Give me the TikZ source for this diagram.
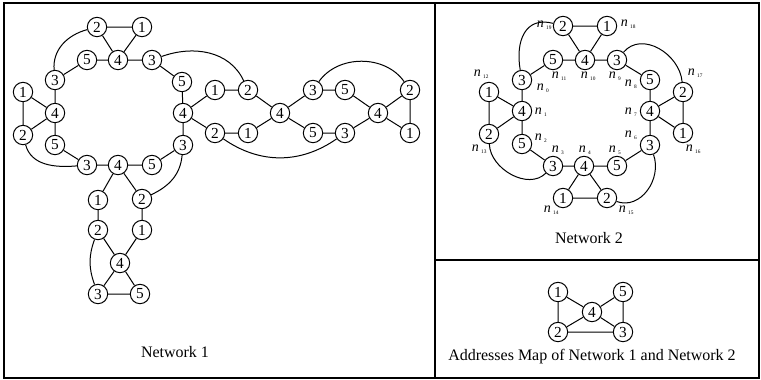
\documentclass[tikz,border=0pt]{standalone}
\usepackage{fontspec}
\setmainfont{Liberation Serif}
\newcommand{\nsub}[1]{\textit{n}\,\raisebox{-0.25ex}{\fontsize{4}{4}\selectfont #1}}
\begin{document}
\begin{tikzpicture}[x=0.75pt,y=-0.75pt,
 nd/.style={circle,draw,line width=0.75pt,minimum size=14.5pt,inner sep=0pt,font=\fontsize{11.5}{12}\selectfont},
 ed/.style={line width=0.75pt},
 lab/.style={font=\fontsize{12}{14}\selectfont},
 nl/.style={anchor=west,inner sep=0pt,font=\fontsize{10.5}{12}\selectfont},
 frame/.style={line width=1pt}]
\useasboundingbox (0,0) rectangle (761,379);
\draw[frame] (4,3) rectangle (759,378);
\draw[frame] (435,3) -- (435,378);
\draw[frame] (435,260) -- (759,260);

% ---------------- Network 1 ----------------
\node[nd] (a2t) at (97,27) {2};
\node[nd] (a1t) at (142,27) {1};
\node[nd] (a5t) at (87,60) {5};
\node[nd] (a4t) at (118,60) {4};
\node[nd] (a3t) at (152,60) {3};
\node[nd] (a3l) at (55,80) {3};
\node[nd] (a5r) at (182,82) {5};
\node[nd] (a1fl) at (23,92) {1};
\node[nd] (a4l) at (55,113) {4};
\node[nd] (a4r) at (183,113) {4};
\node[nd] (a2fl) at (23,135) {2};
\node[nd] (a5l) at (55,145) {5};
\node[nd] (a3r) at (183,145) {3};
\node[nd] (a3b) at (87,165) {3};
\node[nd] (a4b) at (118,165) {4};
\node[nd] (a5b) at (152,165) {5};
\node[nd] (b1) at (98,200) {1};
\node[nd] (b2) at (142,199) {2};
\node[nd] (b2l) at (98,230) {2};
\node[nd] (b1r) at (142,230) {1};
\node[nd] (b4) at (120,263) {4};
\node[nd] (b3) at (98,294) {3};
\node[nd] (b5) at (140,294) {5};
\node[nd] (c1) at (215,90) {1};
\node[nd] (c2) at (248,90) {2};
\node[nd] (c2b) at (215,133) {2};
\node[nd] (c1b) at (248,133) {1};
\node[nd] (c4) at (280,113) {4};
\node[nd] (c3) at (313,90) {3};
\node[nd] (c5) at (345,90) {5};
\node[nd] (c5b) at (313,133) {5};
\node[nd] (c3b) at (345,133) {3};
\node[nd] (c4r) at (378,113) {4};
\node[nd] (c2r) at (410,90) {2};
\node[nd] (c1r) at (410,133) {1};

\draw[ed] (a2t) -- (a1t) (a2t) -- (a4t) (a1t) -- (a4t) (a5t) -- (a4t) -- (a3t)
 (a3l) -- (a5t) (a3l) -- (a4l) (a1fl) -- (a4l) (a2fl) -- (a4l) (a1fl) -- (a2fl)
 (a4l) -- (a5l) (a5l) -- (a3b) (a3b) -- (a4b) -- (a5b) (a5b) -- (a3r)
 (a3t) -- (a5r) (a5r) -- (a4r) -- (a3r) (a4r) -- (c1) (a4r) -- (c2b)
 (a4b) -- (b1) (a4b) -- (b2) (b1) -- (b2l) (b2) -- (b1r) (b2l) -- (b4) (b1r) -- (b4)
 (b4) -- (b3) (b4) -- (b5) (b3) -- (b5)
 (c1) -- (c2) (c2) -- (c4) (c2b) -- (c1b) (c1b) -- (c4) (c4) -- (c3) (c4) -- (c5b)
 (c3) -- (c5) (c5b) -- (c3b) (c5) -- (c4r) (c3b) -- (c4r) (c4r) -- (c2r) (c4r) -- (c1r) (c2r) -- (c1r);
\draw[ed] (a3l) to[out=95,in=195] (a2t);
\draw[ed] (a2fl) to[out=-75,in=185] (a3b);
\draw[ed] (a3r) to[out=-95,in=25] (b2);
\draw[ed] (a3t) to[out=20,in=115] (c2);
\draw[ed] (c3) to[out=55,in=125] (c2r);
\draw[ed] (c2b) to[out=-35,in=-145] (c3b);
\draw[ed] (b2l) to[out=-110,in=110] (b3);
\node[lab] (t1) at (175,352) {Network 1};

% ---------------- Network 2 ----------------
\node[nd] (d2t) at (563,26) {2};
\node[nd] (d1t) at (607,26) {1};
\node[nd] (d5t) at (553,60) {5};
\node[nd] (d4t) at (585,60) {4};
\node[nd] (d3t) at (617,60) {3};
\node[nd] (d3l) at (522,80) {3};
\node[nd] (d5r) at (650,80) {5};
\node[nd] (d1fl) at (489,92) {1};
\node[nd] (d2fr) at (683,92) {2};
\node[nd] (d4l) at (522,111) {4};
\node[nd] (d4r) at (650,111) {4};
\node[nd] (d2fl) at (489,134) {2};
\node[nd] (d1fr) at (683,133) {1};
\node[nd] (d5l) at (522,144) {5};
\node[nd] (d3r) at (650,145) {3};
\node[nd] (d3b) at (553,166) {3};
\node[nd] (d4b) at (584,166) {4};
\node[nd] (d5b) at (617,166) {5};
\node[nd] (d1b) at (563,198) {1};
\node[nd] (d2b) at (607,198) {2};

\draw[ed] (d2t) -- (d1t) (d2t) -- (d4t) (d1t) -- (d4t) (d5t) -- (d4t) -- (d3t)
 (d3l) -- (d5t) (d3t) -- (d5r) (d3l) -- (d4l) (d4l) -- (d1fl) (d4l) -- (d2fl) (d1fl) -- (d2fl)
 (d4l) -- (d5l) (d5l) -- (d3b) (d3b) -- (d4b) -- (d5b) (d5b) -- (d3r)
 (d4b) -- (d1b) (d4b) -- (d2b) (d1b) -- (d2b)
 (d5r) -- (d4r) -- (d3r) (d4r) -- (d2fr) (d4r) -- (d1fr) (d2fr) -- (d1fr);
\draw[ed] (d3l) to[out=100,in=165,looseness=1.3] (d2t);
\draw[ed] (d3t) to[out=50,in=95,looseness=1.1] (d2fr);
\draw[ed] (d2fl) to[out=-88,in=-135] (d3b);
\draw[ed] (d3r) to[out=-70,in=-20,looseness=1.1] (d2b);

\node[nl] (n0) at (536.5,88) {\nsub{0}};
\node[nl] (n1) at (534.5,112) {\nsub{1}};
\node[nl] (n2) at (534.5,138) {\nsub{2}};
\node[nl] (n3) at (551.5,150) {\nsub{3}};
\node[nl] (n4) at (578.5,150) {\nsub{4}};
\node[nl] (n5) at (608.5,150) {\nsub{5}};
\node[nl] (n6) at (624.5,135) {\nsub{6}};
\node[nl] (n7) at (624.5,112) {\nsub{7}};
\node[nl] (n8) at (624.5,84) {\nsub{8}};
\node[nl] (n9) at (608.5,76) {\nsub{9}};
\node[nl] (n10) at (580.5,76) {\nsub{10}};
\node[nl] (n11) at (551.5,76) {\nsub{11}};
\node[nl] (n12) at (473.5,74) {\nsub{12}};
\node[nl] (n13) at (471.5,149) {\nsub{13}};
\node[nl] (n14) at (543.5,210) {\nsub{14}};
\node[nl] (n15) at (618.5,210) {\nsub{15}};
\node[nl] (n16) at (685.5,149) {\nsub{16}};
\node[nl] (n17) at (687.5,73) {\nsub{17}};
\node[nl] (n18) at (620.5,24) {\nsub{18}};
\node[nl] (n19) at (536.5,25) {\nsub{19}};
\node[lab] (t2) at (589,238) {Network 2};

% ---------------- Address map ----------------
\node[nd] (e1) at (558,292) {1};
\node[nd] (e5) at (623,292) {5};
\node[nd] (e4) at (592,312) {4};
\node[nd] (e2) at (558,332) {2};
\node[nd] (e3) at (623,332) {3};
\draw[ed] (e1) -- (e4) -- (e5) (e1) -- (e2) (e5) -- (e3) (e2) -- (e4) -- (e3) (e2) -- (e3);
\node[lab] (t3) at (592,357) {Addresses Map of Network 1 and Network 2};
\end{tikzpicture}
\end{document}
